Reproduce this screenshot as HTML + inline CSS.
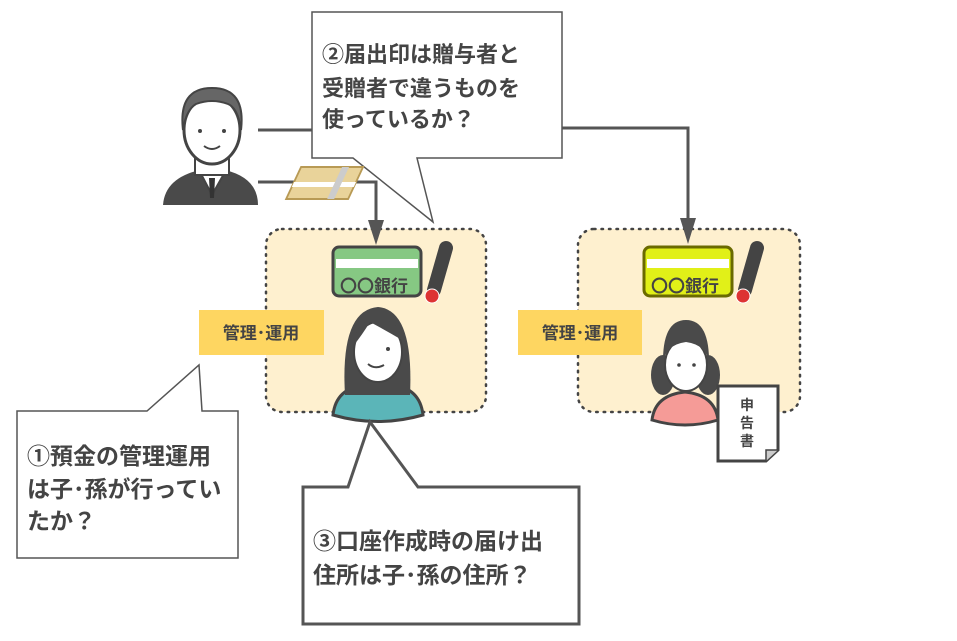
<!DOCTYPE html>
<html><head><meta charset="utf-8"><style>
html,body{margin:0;padding:0;background:#fff}
svg{display:block}
text{font-family:"Liberation Sans","Noto Sans CJK JP",sans-serif;font-weight:bold;fill:#444}
</style></head><body>
<svg width="957" height="641" viewBox="0 0 957 641" xmlns="http://www.w3.org/2000/svg">
<rect x="266" y="229" width="220" height="183" rx="16" fill="#fef0cf" stroke="#444" stroke-width="2.5" stroke-dasharray="1.5 6" stroke-linecap="round"/>
<rect x="578" y="229" width="222" height="183" rx="16" fill="#fef0cf" stroke="#444" stroke-width="2.5" stroke-dasharray="1.5 6" stroke-linecap="round"/>
<polyline points="258,130 320,130" fill="none" stroke="#555" stroke-width="3"/>
<polyline points="558,128 688,128 688,220" fill="none" stroke="#555" stroke-width="3"/>
<polygon points="680,218 696,218 688,244" fill="#555"/>
<polyline points="258,182 376,182 376,222" fill="none" stroke="#555" stroke-width="3"/>
<polygon points="368,220 384,220 376,245" fill="#555"/>
<path d="M312,12 H562 V158 H417 L433,222 L353,158 H312 Z" fill="#fff" stroke="#555" stroke-width="1.5"/>
<text x="322" y="62" font-size="22">②届出印は贈与者と</text>
<text x="322" y="96" font-size="22">受贈者で違うものを</text>
<text x="322" y="127" font-size="22">使っているか？</text>
<g transform="translate(288,165) skewX(-25)">
<rect x="14" y="2" width="62" height="32" fill="#e9d39a" stroke="#b89a55" stroke-width="2"/>
<rect x="14" y="17" width="62" height="5" fill="#fff"/>
<rect x="55" y="2" width="7" height="32" fill="#ccc"/>
</g>
<path d="M163,205 Q165,178 200,170 L225,170 Q258,178 258,205 Z" fill="#4a4a4a"/>
<path d="M200,172 L212,195 L225,172 Z" fill="#fff" stroke="#444" stroke-width="2"/>
<path d="M209,178 L215,178 L214,198 L210,198 Z" fill="#333"/>
<rect x="195" y="150" width="34" height="25" fill="#fff" stroke="#444" stroke-width="2"/>
<ellipse cx="212" cy="130" rx="28" ry="34" fill="#fff" stroke="#444" stroke-width="3"/>
<path d="M183,130 Q178,88 212,88 Q246,88 241,130 Q238,108 228,104 Q212,98 196,104 Q186,110 183,130 Z" fill="#666" stroke="#444" stroke-width="2"/>
<circle cx="200" cy="131" r="2" fill="#444"/><circle cx="224" cy="131" r="2" fill="#444"/>
<path d="M204,146 Q212,152 220,146" fill="none" stroke="#444" stroke-width="2"/>
<rect x="333" y="247" width="88" height="49" rx="6" fill="#86c883" stroke="#444" stroke-width="3"/>
<rect x="336" y="259" width="82" height="9" fill="#fff"/>
<text x="374" y="292" font-size="17" text-anchor="middle">〇〇銀行</text>
<rect x="644" y="247" width="88" height="49" rx="6" fill="#e1f018" stroke="#6a6a00" stroke-width="3"/>
<rect x="647" y="259" width="82" height="9" fill="#fff"/>
<text x="685" y="292" font-size="17" text-anchor="middle">〇〇銀行</text>
<line x1="446" y1="248" x2="434" y2="290" stroke="#444" stroke-width="14" stroke-linecap="round"/>
<circle cx="432" cy="296" r="7" fill="#d33" stroke="#fff" stroke-width="1"/>
<line x1="757" y1="248" x2="745" y2="290" stroke="#444" stroke-width="14" stroke-linecap="round"/>
<circle cx="743" cy="296" r="7" fill="#d33" stroke="#fff" stroke-width="1"/>
<rect x="199" y="310" width="125" height="45" fill="#fed661"/>
<text x="261" y="339" font-size="17" text-anchor="middle">管理･運用</text>
<rect x="518" y="310" width="124" height="45" fill="#fed661"/>
<text x="580" y="339" font-size="17" text-anchor="middle">管理･運用</text>
<path d="M333,415 Q336,388 365,385 L392,385 Q420,388 423,415 Q378,428 333,415 Z" fill="#5bb5b8" stroke="#444" stroke-width="3"/>
<path d="M345,395 Q340,310 378,307 Q414,310 410,395 Z" fill="#4a4a4a"/>
<ellipse cx="378" cy="352" rx="24" ry="30" fill="#fff" stroke="#444" stroke-width="2"/>
<path d="M354,345 Q356,318 380,318 Q400,322 402,340 Q385,330 370,322 Q362,335 354,345 Z" fill="#4a4a4a"/>
<circle cx="388" cy="349" r="2" fill="#444"/>
<path d="M368,364 Q375,370 384,365" fill="none" stroke="#444" stroke-width="2"/>
<path d="M652,420 Q655,395 685,392 Q715,395 718,420 Q685,430 652,420 Z" fill="#f59b97" stroke="#444" stroke-width="3"/>
<ellipse cx="663" cy="375" rx="12" ry="20" fill="#4a4a4a"/>
<ellipse cx="708" cy="375" rx="12" ry="20" fill="#4a4a4a"/>
<ellipse cx="686" cy="365" rx="21" ry="26" fill="#fff" stroke="#444" stroke-width="2"/>
<path d="M663,365 Q662,320 686,320 Q710,320 709,365 Q708,345 686,342 Q664,345 663,365 Z" fill="#4a4a4a"/>
<circle cx="679" cy="365" r="1.8" fill="#444"/><circle cx="694" cy="365" r="1.8" fill="#444"/>
<path d="M718,386 H778 V450 L766,461 H718 Z" fill="#fff" stroke="#444" stroke-width="3"/>
<path d="M766,461 V450 H778" fill="#ccc" stroke="#444" stroke-width="1.5"/>
<text x="747" y="410" font-size="14" text-anchor="middle" font-weight="normal">申</text>
<text x="747" y="428" font-size="14" text-anchor="middle" font-weight="normal">告</text>
<text x="747" y="446" font-size="14" text-anchor="middle" font-weight="normal">書</text>
<path d="M17,411 H147 L199,365 L202,411 H238 V558 H17 Z" fill="#fff" stroke="#555" stroke-width="1.5"/>
<text x="27" y="464" font-size="23">①預金の管理運用</text>
<text x="27" y="497" font-size="23">は子･孫が行ってい</text>
<text x="27" y="529" font-size="23">たか？</text>
<path d="M303,487 H348 L370,422 L418,487 H579 V624 H303 Z" fill="#fff" stroke="#555" stroke-width="3"/>
<text x="313" y="549" font-size="23">③口座作成時の届け出</text>
<text x="313" y="583" font-size="23">住所は子･孫の住所？</text>
</svg>
</body></html>
